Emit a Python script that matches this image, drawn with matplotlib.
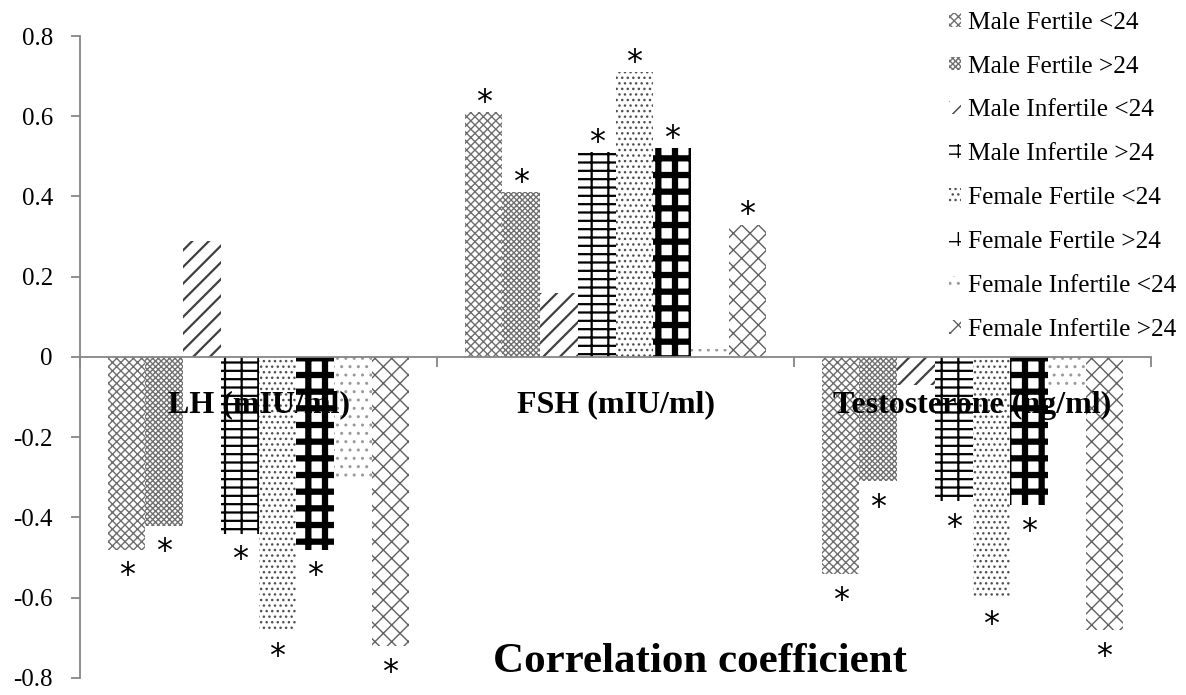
import numpy as np
import matplotlib
matplotlib.use("Agg")
from matplotlib import pyplot as plt

# ----- data -----
categories = ["LH (mIU/ml)", "FSH (mIU/ml)", "Testosterone (ng/ml)"]
groups = ["Male Fertile <24", "Male Fertile >24", "Male Infertile <24", "Male Infertile >24",
          "Female Fertile <24", "Female Fertile >24", "Female Infertile <24", "Female Infertile >24"]

lh_r = [-0.48, -0.42, 0.29, -0.44, -0.68, -0.48, -0.31, -0.72]
fsh_r = [0.61, 0.41, 0.16, 0.51, 0.71, 0.52, 0.02, 0.33]
testo_r = [-0.54, -0.31, -0.07, -0.36, -0.60, -0.37, -0.08, -0.68]

# 1 = significant (star)
lh_sig = [1, 1, 0, 1, 1, 1, 0, 1]
fsh_sig = [1, 1, 0, 1, 1, 1, 0, 1]
testo_sig = [1, 1, 0, 1, 1, 1, 0, 1]

yticks = [-0.8, -0.6, -0.4, -0.2, 0, 0.2, 0.4, 0.6, 0.8]
ytick_labels = ["-0.8", "-0.6", "-0.4", "-0.2", "0", "0.2", "0.4", "0.6", "0.8"]

# ----- styles -----
serif = ["Liberation Serif", "DejaVu Serif"]
axis_gray = "#868686"
# (hatch, hatch color, hatch linewidth)
styles = [
    ("xxxx", "#6e6e6e", 1.0),
    ("xxxxxx", "#707070", 1.0),
    ("//", "#404040", 1.6),
    ("--|", "#000000", 1.6),
    ("...", "#505050", 1.0),
    ("+", "#000000", 4.5),
    ("..", "#9a9a9a", 1.0),
    ("xx", "#606060", 1.0),
]

values = np.array([lh_r, fsh_r, testo_r])
sigs = np.array([lh_sig, fsh_sig, testo_sig])

fig = plt.figure(figsize=(11.86, 6.95), dpi=100)
ax = fig.add_axes([0.0675, 0.0245, 0.903, 0.9237])

x = np.arange(len(categories))
n = len(groups)
w = 0.1056
handles = []
for i, g in enumerate(groups):
    hatch, hc, hlw = styles[i]
    pos = x + (i - (n - 1) / 2) * w
    bars = ax.bar(pos, values[:, i], width=w, color="white", edgecolor=hc,
                  linewidth=0, hatch=hatch, label=g, zorder=2)
    for p in bars:
        try:
            p.set_hatch_linewidth(hlw)
        except AttributeError:
            pass
    handles.append(bars)
    # stars for significant correlations
    for j in range(len(categories)):
        if sigs[j, i]:
            v = values[j, i]
            off = 7 if v > 0 else -19
            ax.annotate("*", xy=(pos[j], v), xytext=(0, off), textcoords="offset points",
                        ha="center", va="center", fontsize=23, zorder=4)

# category labels sit just under the zero line, like Excel
for j, c in enumerate(categories):
    ax.text(x[j], -0.12, c, ha="center", va="center", fontsize=23,
            fontweight="bold", family=serif, zorder=5)

ax.set_xlim(-0.5, len(categories) - 0.5)
ax.set_ylim(-0.8, 0.8)
ax.set_yticks(yticks)
ax.set_yticklabels(ytick_labels, family=serif, fontsize=18)
ax.set_xticks(np.arange(len(categories) + 1) - 0.5)
ax.set_xticklabels([])

for s in ["top", "right"]:
    ax.spines[s].set_visible(False)
ax.spines["bottom"].set_position(("data", 0))
ax.spines["bottom"].set_color(axis_gray)
ax.spines["left"].set_color(axis_gray)
ax.spines["bottom"].set_linewidth(1.3)
ax.spines["left"].set_linewidth(1.3)
ax.tick_params(axis="y", direction="out", length=6.5, color=axis_gray, width=1.3, pad=13)
ax.tick_params(axis="x", direction="out", length=7, color=axis_gray, width=1.3)

leg = fig.legend(handles=handles, labels=groups, loc="upper left",
                 bbox_to_anchor=(934 / 1186, 1.005), frameon=False,
                 prop={"family": serif, "size": 18.3}, handlelength=0.45, handleheight=0.45,
                 handletextpad=0.3, labelspacing=0.86, borderpad=0.1)

fig.text(700 / 1186, 1 - 662 / 695, "Correlation coefficient", ha="center", va="center",
         fontsize=31, fontweight="bold", family=serif)

plt.savefig("out.png", dpi=100)
